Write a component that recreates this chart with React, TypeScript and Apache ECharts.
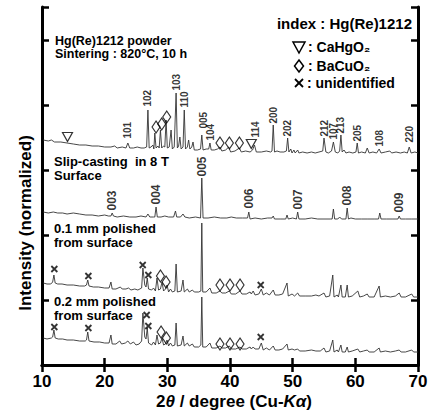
import React, { useEffect, useRef } from "react";
import * as echarts from "echarts";

// 2θ axis ticks
const xTicks = [10, 20, 30, 40, 50, 60, 70];

// Spectra: [2θ, offset intensity]
const powder: [number, number][] = [
  [10.2,225],[11,224],[11.5,225],[12,223],[13,223],[14,222],[15,221],[16,220],[17,220],[18,219],[19,219],[20,218],[21,218],[21.6,219],[22,217],[22.8,218],[23.4,217],[23.7,222],[24.0,217],[24.6,217],[25.2,218],[25.8,217],[26.3,217],[26.7,218],[26.9,255],[27.1,217],[27.4,218],[27.7,220],[27.85,216],[28.0,232],[28.2,217],[28.5,219],[28.7,217],[28.9,235],[29.1,217],[29.4,219],[29.6,218],[29.8,245],[30.0,217],[30.3,218],[30.6,235],[30.8,216],[31.1,218],[31.4,272],[31.6,217],[31.8,219],[32.0,228],[32.2,216],[32.5,218],[32.7,255],[32.9,216],[33.2,218],[33.4,225],[33.6,216],[33.9,218],[34.1,223],[34.3,215],[34.8,215],[35.3,216],[35.5,230],[35.7,215],[36.2,216],[36.6,216],[36.8,222],[37.0,215],[37.5,215],[38.0,216],[38.4,218],[38.7,214],[39.3,215],[39.8,218],[40.1,213],[40.8,214],[41.5,217],[41.8,213],[42.5,214],[43.2,213],[43.6,215],[43.9,220],[44.2,213],[45,213],[45.8,214],[46.5,213],[46.7,214],[46.9,240],[47.1,213],[47.5,214],[48.0,213],[48.6,213],[49.0,214],[49.2,227],[49.4,213],[49.7,216],[49.9,212],[50.2,215],[50.4,212],[50.8,215],[51.0,212],[51.6,213],[52.3,212],[53.0,213],[53.6,212],[54.2,213],[54.8,214],[55.0,227],[55.3,213],[55.7,212],[56.2,214],[56.5,223],[56.8,213],[57.2,212],[57.5,214],[57.7,230],[57.9,213],[58.2,215],[58.5,212],[59.0,213],[59.6,212],[60.1,213],[60.3,222],[60.5,212],[61.0,213],[61.6,212],[61.9,217],[62.2,212],[62.8,213],[63.4,212],[63.8,216],[64.1,212],[64.8,213],[65.5,214],[65.8,212],[66.5,213],[67.2,212],[67.8,213],[68.3,212],[68.6,218],[68.9,212],[69.5,213],[70,212]
];

const slipCast: [number, number][] = [
  [10.2,153],[11,152],[11.8,153],[12.5,152],[13.3,152],[14,151],[15,152],[16,151],[17,150],[18,150],[19,149],[20,150],[20.6,149],[21.0,149],[21.2,152],[21.4,149],[22,148],[23,149],[24,148],[25,148],[25.8,149],[26.6,148],[26.9,151],[27.2,148],[27.8,148],[28.0,148],[28.2,158],[28.4,148],[29,148],[29.6,149],[30.2,148],[31.0,148],[31.3,154],[31.5,148],[32.1,148],[32.5,151],[32.8,148],[33.5,147],[34.5,148],[35.3,147],[35.5,187],[35.7,147],[36.5,147],[37.5,148],[38.5,147],[39.5,147],[40.2,148],[41,147],[42,147],[42.8,147],[43.0,153],[43.2,146],[44,147],[45,146],[46,147],[46.7,147],[46.9,149],[47.1,146],[48,146],[48.9,146],[49.1,150],[49.3,146],[50,147],[50.6,146],[50.8,153],[51.0,146],[52,146],[53,147],[54,146],[55,146],[56,146],[56.3,146],[56.5,156],[56.7,146],[57.2,146],[57.5,148],[57.8,146],[58.5,146],[58.7,157],[58.9,146],[59.3,147],[60,146],[61,146],[62,146],[63,146],[63.7,146],[63.9,152],[64.1,146],[65,146],[66,146],[66.8,146],[67.0,149],[67.2,146],[68,146],[69,146],[70,146]
];

const polish01: [number, number][] = [
  [10.2,82],[10.8,81],[11.4,81],[11.7,83],[11.9,90],[12.1,82],[12.5,81],[13.2,81],[14,80],[15,80],[16,79],[16.8,79],[17.1,80],[17.3,85],[17.5,79],[18.2,78],[19,78],[20,77],[20.7,77],[21.0,83],[21.2,76],[21.8,76],[22.5,78],[22.8,76],[23.4,76],[23.8,77],[24.2,75],[24.8,76],[25.3,75],[25.9,77],[26.1,97],[26.4,80],[26.6,78],[26.8,87],[27.0,76],[27.5,75],[27.8,77],[28.1,74],[28.35,87],[28.6,75],[28.9,76],[29.15,83],[29.4,74],[29.7,76],[29.95,80],[30.2,73],[30.5,76],[30.8,73],[31.2,74],[31.4,101],[31.6,73],[32.2,74],[32.5,85],[32.7,73],[33.2,76],[33.5,73],[34,75],[34.3,73],[35.0,73],[35.35,74],[35.5,142],[35.65,73],[36.2,73],[36.8,77],[37.1,72],[37.8,72],[38.4,74],[38.7,72],[39.3,72],[39.9,74],[40.2,71],[40.9,71],[41.6,74],[41.9,71],[42.6,71],[43.2,73],[43.4,71],[43.7,74],[44.0,70],[44.6,71],[45.0,76],[45.3,70],[45.8,72],[46.3,70],[46.9,75],[47.2,70],[47.8,70],[48.4,71],[49.1,82],[49.3,69],[49.9,71],[50.3,69],[50.8,72],[51.1,69],[52,69],[53,69],[53.7,70],[54.2,69],[55.0,72],[55.3,68],[55.9,69],[56.4,90],[56.6,68],[57.1,70],[57.3,68],[57.7,80],[57.9,68],[58.4,68],[58.7,80],[58.9,68],[59.5,69],[60.4,74],[60.7,68],[61.3,69],[61.9,71],[62.2,68],[63,68],[63.8,79],[64.0,68],[64.8,69],[65.6,68],[66.4,69],[67.0,72],[67.3,68],[68.0,68],[69.0,71],[69.3,68],[70,68]
];

const polish02: [number, number][] = [
  [10.2,27],[10.8,26],[11.5,27],[11.7,28],[11.9,35],[12.1,27],[12.6,26],[13.3,26],[14,25],[15,25],[16,24],[16.9,24],[17.1,25],[17.3,33],[17.5,24],[18.3,23],[19.2,23],[20,22],[20.7,22],[21.0,30],[21.2,21],[21.8,21],[22.4,24],[22.7,21],[23.3,22],[23.7,24],[24.1,21],[24.6,23],[25.0,20],[25.5,21],[25.9,24],[26.1,52],[26.4,28],[26.6,26],[26.8,37],[27.0,22],[27.5,20],[27.8,23],[28.1,20],[28.35,30],[28.6,21],[28.9,22],[29.15,27],[29.4,20],[29.7,21],[29.95,25],[30.2,19],[30.5,22],[30.8,19],[31.2,20],[31.4,42],[31.6,19],[32.2,20],[32.5,29],[32.7,19],[33.2,22],[33.5,19],[34.0,21],[34.3,18],[35.0,18],[35.35,20],[35.5,68],[35.65,18],[36.2,18],[36.8,22],[37.1,17],[37.8,17],[38.4,19],[38.7,17],[39.3,17],[39.9,19],[40.2,16],[40.9,16],[41.6,18],[41.9,16],[42.6,16],[43.2,18],[43.4,16],[43.7,18],[44.0,16],[44.6,16],[45.0,22],[45.3,15],[45.8,17],[46.3,15],[46.9,19],[47.2,15],[47.8,15],[48.4,16],[49.1,21],[49.3,15],[49.9,16],[50.3,15],[50.8,16],[51.1,14],[52,14],[53,15],[53.7,14],[54.4,14],[55.0,17],[55.3,13],[55.9,14],[56.4,25],[56.6,13],[57.1,15],[57.3,13],[57.7,20],[57.9,13],[58.4,13],[58.7,18],[58.9,13],[59.5,14],[60.4,16],[60.7,13],[61.3,14],[61.9,15],[62.2,13],[63,13],[63.8,17],[64,13],[64.8,14],[65.6,13],[66.4,14],[67.0,15],[67.3,13],[68,13],[69,15],[69.3,13],[70,13]
];

// Peak indices: [2θ, label start, text]
const powderIdx: [number, number, string][] = [
  [23.7, 226, "101"], [26.9, 258, "102"], [31.4, 274, "103"], [32.7, 257, "110"],
  [35.7, 236, "005"], [36.9, 224, "104"], [44.0, 227, "114"], [46.9, 241, "200"],
  [49.2, 228, "202"], [55.0, 228, "212"], [56.5, 225, "107"], [57.7, 231, "213"],
  [60.3, 223, "205"], [63.8, 218, "108"], [68.6, 222, "220"]
];
const slipIdx: [number, number, string][] = [
  [21.2, 154, "003"], [28.2, 160, "004"], [35.5, 188, "005"], [43.0, 156, "006"],
  [50.8, 155, "007"], [58.7, 159, "008"], [67.0, 152, "009"]
];

// Phase markers
const caHgO2: [number, number][] = [[14.07, 228], [43.4, 221]];
const baCuO2: [number, number][] = [
  [28.2, 238], [29.1, 241], [29.9, 248], [38.4, 222], [39.9, 222], [41.5, 222],
  [28.9, 89], [29.8, 83], [38.4, 80], [40.0, 80], [41.6, 80],
  [29.0, 33], [29.85, 27], [38.4, 21], [40.0, 21], [41.6, 21]
];
const unidentified: [number, number][] = [
  [11.97, 96], [17.4, 89], [26.07, 100], [26.97, 90], [44.9, 80],
  [11.97, 38], [17.4, 37], [26.7, 50], [26.97, 39], [44.9, 28]
];

const FF = '"Liberation Sans", Arial, Helvetica, sans-serif';

export default function App() {
  const ref = useRef<HTMLDivElement>(null);
  useEffect(() => {
    if (!ref.current) return;
    const chart = echarts.init(ref.current, undefined, { renderer: "svg" });
    const lineSeries = (data: [number, number][]) => ({
      type: "line",
      data,
      showSymbol: false,
      symbol: "none",
      lineStyle: { color: "#333", width: 0.9 },
      silent: true,
      z: 2,
    });
    const idxSeries = (data: [number, number, string][], size: number) => ({
      type: "scatter",
      data: data.map(([x, y, t]) => ({ value: [x, y], name: t })),
      symbolSize: 1,
      itemStyle: { color: "rgba(0,0,0,0)" },
      silent: true,
      z: 5,
      label: {
        show: true,
        formatter: "{b}",
        position: "top",
        distance: 0,
        rotate: 90,
        align: "left",
        verticalAlign: "middle",
        fontSize: size,
        fontWeight: "bold",
        fontFamily: FF,
        color: "#000",
      },
    });
    const tickCommon = { show: true, inside: true, length: 7, lineStyle: { width: 2.5, color: "#000" } };
    const lineCommon = { show: true, lineStyle: { width: 3, color: "#000" } };
    const txt = (x: number, y: number, text: string, size: number, lh: number) => ({
      type: "text", x, y,
      style: { text, fontSize: size, fontWeight: "bold", fontFamily: FF, fill: "#000", lineHeight: lh, verticalAlign: "top" },
    });
    chart.setOption({
      animation: false,
      grid: { left: 42, right: 15, top: 7, bottom: 51 },
      xAxis: [
        {
          type: "value", min: xTicks[0], max: xTicks[xTicks.length - 1], interval: 10,
          position: "bottom", axisLine: lineCommon, axisTick: tickCommon, splitLine: { show: false },
          axisLabel: { show: true, margin: 8, fontSize: 17, lineHeight: 17, fontWeight: "bold", fontFamily: FF, color: "#000" },
        },
        {
          type: "value", min: xTicks[0], max: xTicks[xTicks.length - 1], interval: 10,
          position: "top", axisLine: lineCommon, axisTick: tickCommon, splitLine: { show: false },
          axisLabel: { show: false },
        },
      ],
      yAxis: [
        {
          type: "value", min: 0, max: 358, interval: 65, position: "left",
          axisLine: lineCommon, axisTick: tickCommon, splitLine: { show: false }, axisLabel: { show: false },
        },
        {
          type: "value", min: 0, max: 358, interval: 65, position: "right",
          axisLine: lineCommon, axisTick: tickCommon, splitLine: { show: false }, axisLabel: { show: false },
        },
      ],
      series: [
        lineSeries(powder),
        lineSeries(slipCast),
        lineSeries(polish01),
        lineSeries(polish02),
        idxSeries(powderIdx, 10),
        idxSeries(slipIdx, 12),
        {
          type: "scatter", data: caHgO2, symbol: "triangle", symbolRotate: 180, symbolSize: [10, 9],
          itemStyle: { color: "rgba(0,0,0,0)", borderColor: "#000", borderWidth: 1.2 }, silent: true, z: 6,
        },
        {
          type: "scatter", data: baCuO2, symbol: "diamond", symbolSize: [8, 12],
          itemStyle: { color: "rgba(0,0,0,0)", borderColor: "#000", borderWidth: 1.2 }, silent: true, z: 6,
        },
        {
          type: "scatter", data: unidentified, symbol: "path://M0,0L10,10M10,0L0,10", symbolSize: 6,
          itemStyle: { color: "none", borderColor: "#000", borderWidth: 1.8 }, silent: true, z: 6,
        },
      ],
      graphic: [
        txt(55, 35, "Hg(Re)1212 powder\nSintering : 820°C, 10 h", 12.5, 12.5),
        txt(54, 155, "Slip-casting  in 8 T\nSurface", 13, 13.5),
        txt(54, 221, "0.1 mm polished\nfrom surface", 13, 14),
        txt(54, 295, "0.2 mm polished\nfrom surface", 13, 13.5),
        { type: "text", x: 412, y: 23, style: { text: "index : Hg(Re)1212", fontSize: 15, fontWeight: "bold", fontFamily: FF, fill: "#000", align: "right", verticalAlign: "middle" } },
        { type: "polygon", shape: { points: [[293, 42], [305, 42], [299, 53]] }, style: { fill: "none", stroke: "#000", lineWidth: 1.5 } },
        { type: "text", x: 308, y: 47, style: { text: ": CaHgO₂", fontSize: 14, fontWeight: "bold", fontFamily: FF, fill: "#000", verticalAlign: "middle" } },
        { type: "polygon", shape: { points: [[299, 60], [303.5, 66], [299, 72], [294.5, 66]] }, style: { fill: "none", stroke: "#000", lineWidth: 1.5 } },
        { type: "text", x: 308, y: 66, style: { text: ": BaCuO₂", fontSize: 14, fontWeight: "bold", fontFamily: FF, fill: "#000", verticalAlign: "middle" } },
        { type: "line", shape: { x1: 295, y1: 79, x2: 303, y2: 87 }, style: { stroke: "#000", lineWidth: 1.8 } },
        { type: "line", shape: { x1: 303, y1: 79, x2: 295, y2: 87 }, style: { stroke: "#000", lineWidth: 1.8 } },
        { type: "text", x: 307, y: 83, style: { text: ": unidentified", fontSize: 14, fontWeight: "bold", fontFamily: FF, fill: "#000", verticalAlign: "middle" } },
        { type: "text", x: 25, y: 223, rotation: Math.PI / 2, style: { text: "Intensity (normalized)", fontSize: 17, fontWeight: "bold", fontFamily: FF, fill: "#000", align: "center", verticalAlign: "middle" } },
        {
          type: "text", x: 234, y: 401,
          style: {
            text: "{n|2}{i|θ}{n| / degree (Cu-}{i|K}{i|α}{n|)}",
            align: "center", verticalAlign: "middle", fill: "#000",
            rich: {
              n: { fontSize: 17, lineHeight: 17, fontWeight: "bold", fontFamily: FF, fill: "#000" },
              i: { fontSize: 17, lineHeight: 17, fontWeight: "bold", fontStyle: "italic", fontFamily: FF, fill: "#000" },
            },
          },
        },
      ],
    });
    return () => chart.dispose();
  }, []);
  return <div ref={ref} style={{ position: "fixed", left: 0, top: 0, width: 433, height: 416, background: "#fff" }} />;
}
